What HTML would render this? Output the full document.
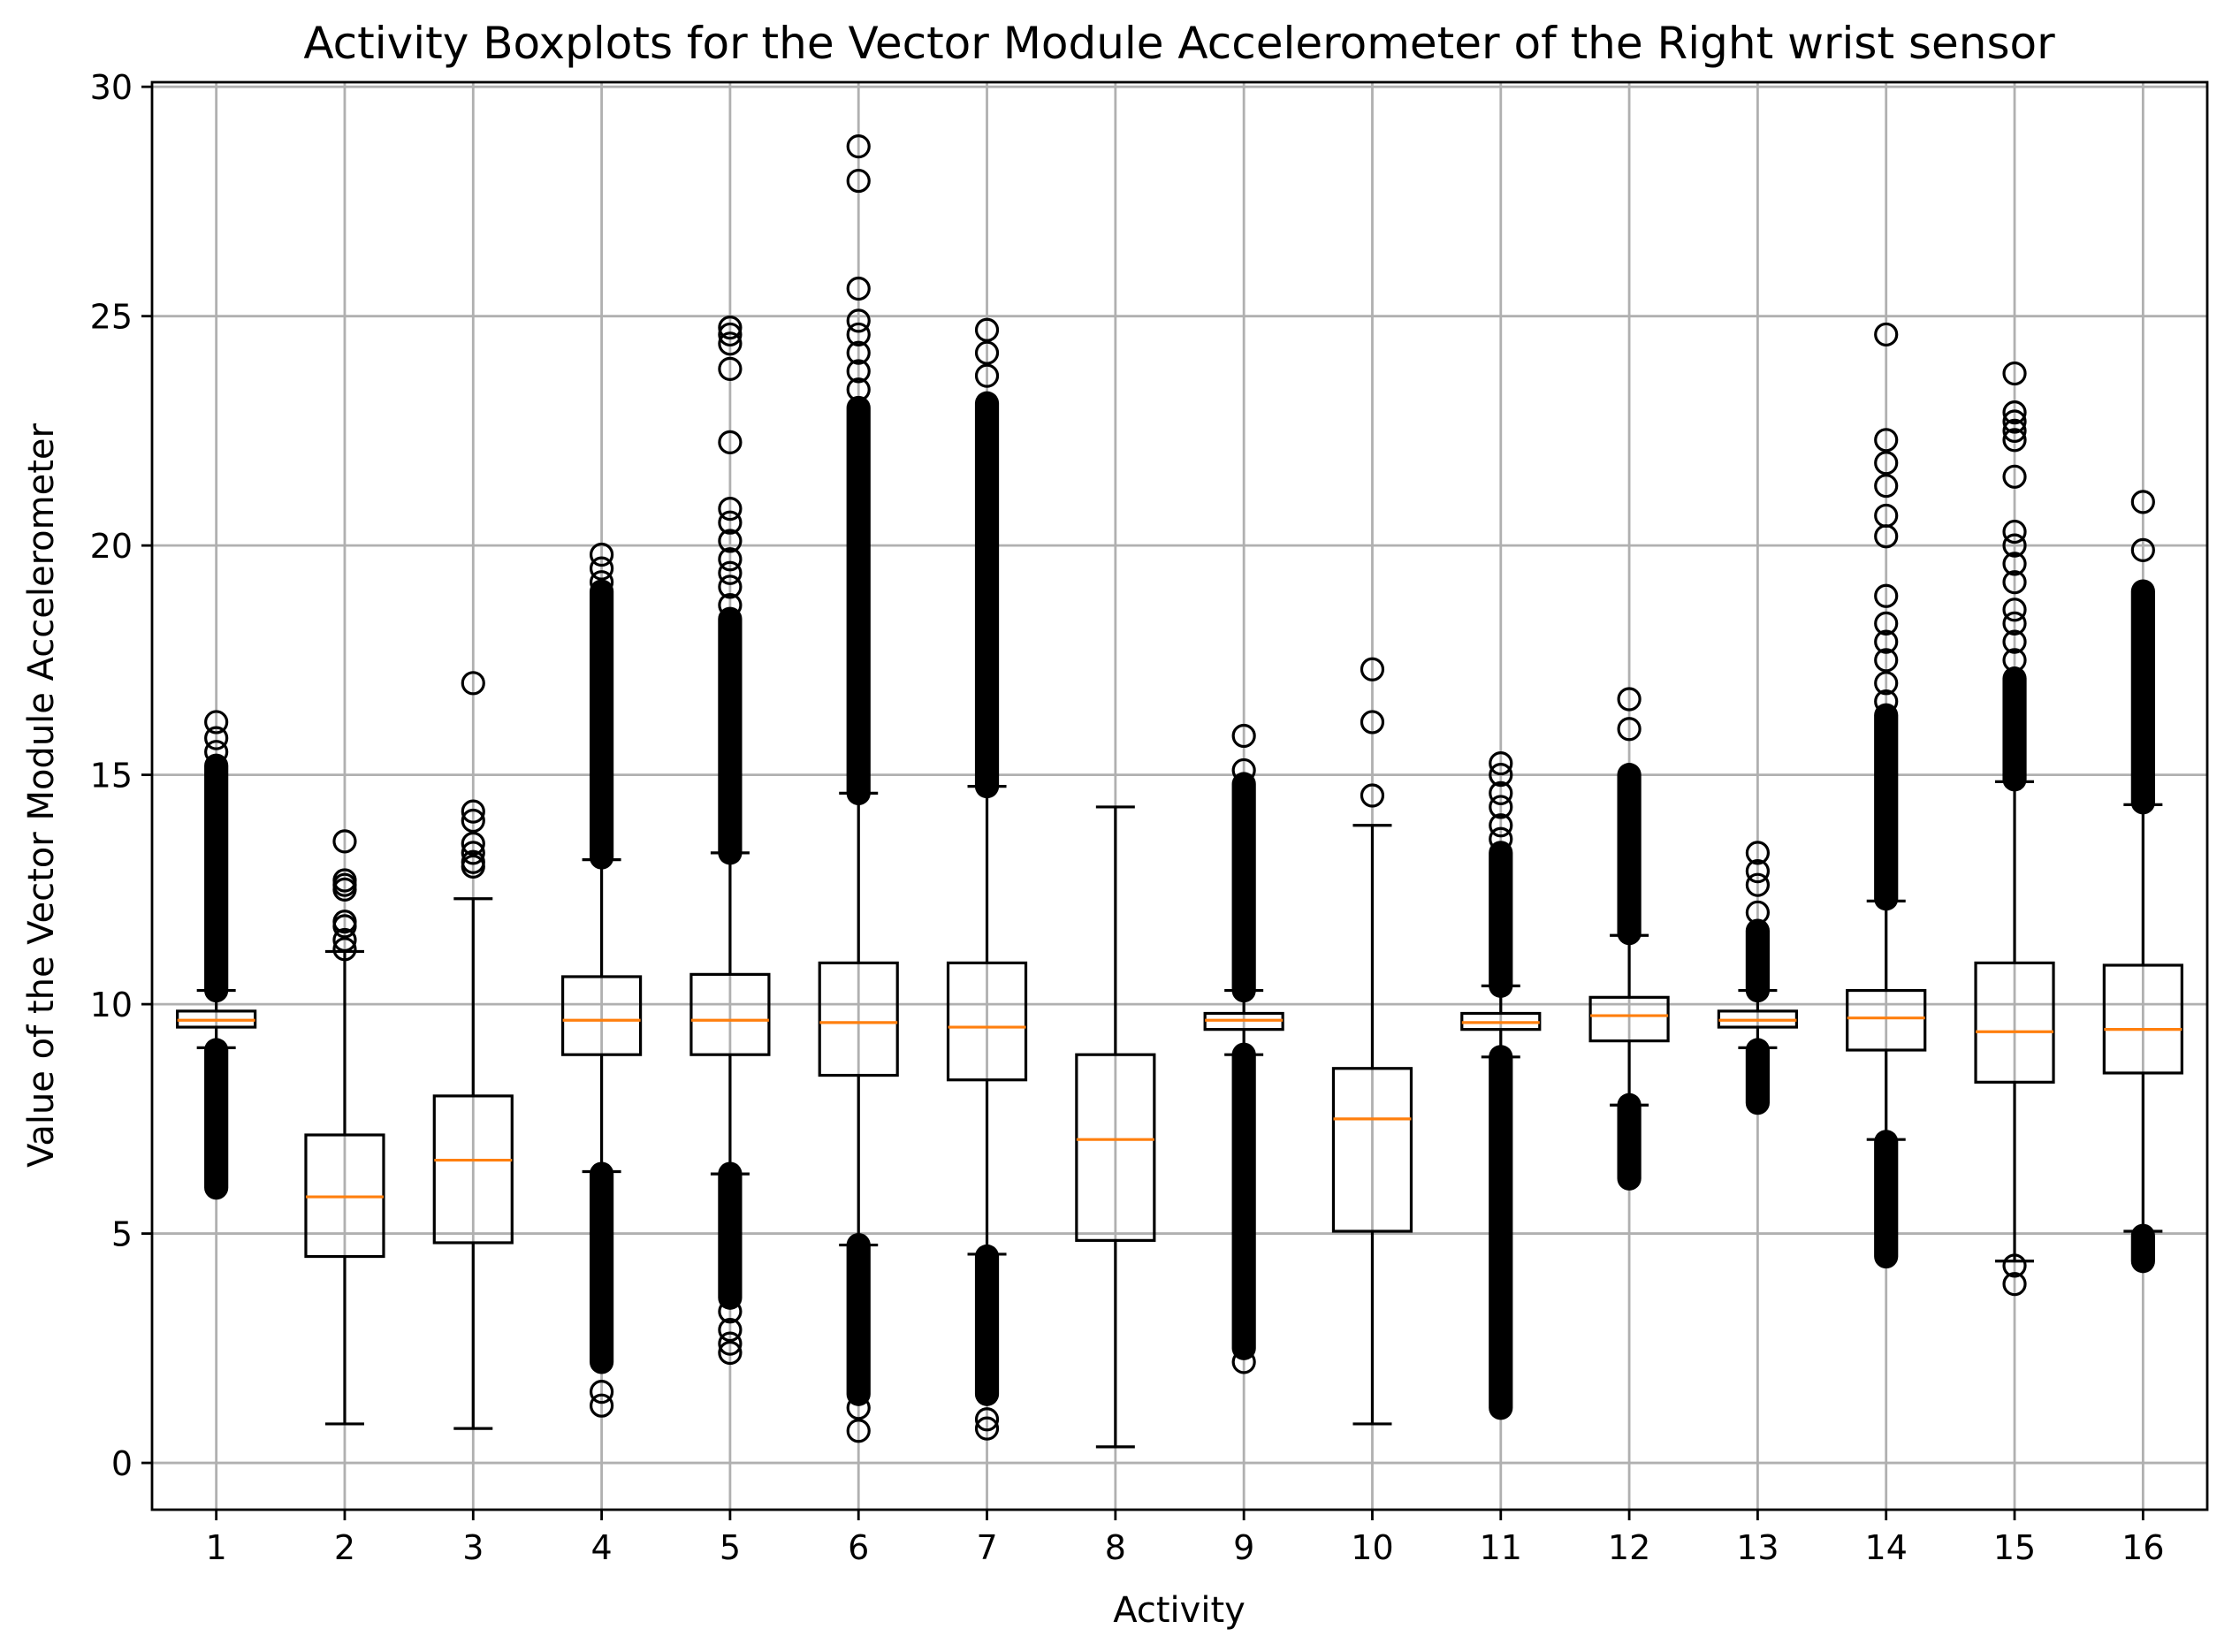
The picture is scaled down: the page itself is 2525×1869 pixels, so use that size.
<!DOCTYPE html>
<html><head><meta charset="utf-8"><style>
html,body{margin:0;padding:0;background:#fff;}
svg{display:block;font-family:"DejaVu Sans","Liberation Sans",sans-serif;}
</style></head><body>
<svg id="chart" width="2525" height="1869" viewBox="0 0 2525 1869" xmlns="http://www.w3.org/2000/svg">
<rect x="0" y="0" width="2525" height="1869" fill="#fff"/>
<g id="grid"></g>
<g id="boxes"></g>
<rect x="172" y="93" width="2325" height="1615" fill="none" stroke="#000" stroke-width="2.8"/>
<g id="ticks"></g>
<text x="1334" y="66" text-anchor="middle" font-size="50">Activity Boxplots for the Vector Module Accelerometer of the Right wrist sensor</text>
<text x="1334" y="1835" text-anchor="middle" font-size="40">Activity</text>
<text transform="translate(60,900) rotate(-90)" text-anchor="middle" font-size="40">Value of the Vector Module Accelerometer</text>
</svg>
<script>
const categories=["1","2","3","4","5","6","7","8","9","10","11","12","13","14","15","16"];
const q1=[9.5,4.5,4.8,8.9,8.9,8.45,8.35,4.85,9.45,5.05,9.45,9.2,9.5,9.0,8.3,8.5];
const medians=[9.65,5.8,6.6,9.65,9.65,9.6,9.5,7.05,9.65,7.5,9.6,9.75,9.65,9.7,9.4,9.45];
const q3=[9.85,7.15,8.0,10.6,10.65,10.9,10.9,8.9,9.8,8.6,9.8,10.15,9.85,10.3,10.9,10.85];
const whiskerLow=[9.05,0.85,0.75,6.35,6.3,4.75,4.55,0.35,8.9,0.85,8.85,7.8,9.05,7.05,4.4,5.05];
const whiskerHigh=[10.3,11.15,12.3,13.15,13.3,14.6,14.75,14.3,10.3,13.9,10.4,11.5,10.3,12.25,14.85,14.35];
// dense outlier runs [low, high] per activity (overlapping markers)
const denseHigh=[[10.3,15.2],null,null,[13.2,19.0],[13.3,18.4],[14.6,23.0],[14.75,23.1],null,[10.3,14.8],null,[10.4,13.3],[11.55,15.0],[10.3,11.6],[12.3,16.3],[14.9,17.1],[14.4,19.0]];
const denseLow=[[6.0,9.0],null,null,[2.2,6.3],[3.6,6.3],[1.5,4.75],[1.5,4.5],null,[2.5,8.9],null,[1.2,8.85],[6.2,7.8],[7.85,9.0],[4.5,7.0],null,[4.4,4.95]];
const sparseOutliers=[
 [15.5,15.8,16.15],
 [11.2,11.4,11.7,11.8,12.5,12.6,12.7,13.55],
 [13.0,13.1,13.3,13.5,14.0,14.2,17.0],
 [19.2,19.5,19.8,1.55,1.25],
 [18.7,19.1,19.4,19.7,20.1,20.5,20.8,22.25,23.85,24.4,24.6,24.75,2.4,2.6,2.9,3.3],
 [23.4,23.8,24.2,24.6,24.9,25.6,27.95,28.7,1.2,0.7],
 [23.7,24.2,24.7,0.95,0.75],
 [],
 [15.1,15.85,2.2],
 [14.55,16.15,17.3],
 [13.6,13.9,14.3,14.6,15.0,15.25],
 [16.0,16.65],
 [12.0,12.6,12.9,13.3],
 [16.6,17.0,17.5,17.9,18.3,18.9,20.2,20.65,21.3,21.8,22.3,24.6],
 [17.5,17.9,18.3,18.6,19.2,19.6,20.0,20.3,21.5,22.3,22.5,22.7,22.9,23.75,4.3,3.9],
 [19.9,20.95]
];
const yTicks=[0,5,10,15,20,25,30];

const NS="http://www.w3.org/2000/svg";
const L=172,R=2497,T=93,B=1708,xmin=0.5,xmax=16.5,ymin=-1.02,ymax=30.1;
const xs=i=>L+(i+1-xmin)/(xmax-xmin)*(R-L);
const ys=v=>B-(v-ymin)/(ymax-ymin)*(B-T);
function mk(tag,attrs,parent){const e=document.createElementNS(NS,tag);for(const k in attrs)e.setAttribute(k,attrs[k]);parent.appendChild(e);return e;}
const grid=document.getElementById('grid'),boxes=document.getElementById('boxes'),ticks=document.getElementById('ticks');
yTicks.forEach(v=>{
 const g=mk('line',{x1:L,x2:R,y1:ys(v),y2:ys(v),stroke:'#b0b0b0','stroke-width':2.8},grid);
 
 
 const t=mk('line',{x1:L-12,x2:L,y1:ys(v),y2:ys(v),stroke:'#000','stroke-width':2.8},ticks);
 
 
 const tx=mk('text',{x:L-22,y:ys(v)+14,'text-anchor':'end','font-size':38},ticks);
 tx.textContent=v;
 
 
});
categories.forEach((c,i)=>{
 const x=xs(i);
 const g=mk('line',{x1:x,x2:x,y1:T,y2:B,stroke:'#b0b0b0','stroke-width':2.8},grid);
 
 
 const t=mk('line',{x1:x,x2:x,y1:B,y2:B+12,stroke:'#000','stroke-width':2.8},ticks);
 
 
 const tx=mk('text',{x:x,y:B+56,'text-anchor':'middle','font-size':38},ticks);
 tx.textContent=c;
 
 

 const grp=mk('g',{},boxes);
 
 
 const bw=44,cw=22,sw=3.2;
 mk('line',{x1:x,x2:x,y1:ys(q1[i]),y2:ys(whiskerLow[i]),stroke:'#000','stroke-width':sw},grp);
 mk('line',{x1:x,x2:x,y1:ys(q3[i]),y2:ys(whiskerHigh[i]),stroke:'#000','stroke-width':sw},grp);
 mk('line',{x1:x-cw,x2:x+cw,y1:ys(whiskerLow[i]),y2:ys(whiskerLow[i]),stroke:'#000','stroke-width':sw},grp);
 mk('line',{x1:x-cw,x2:x+cw,y1:ys(whiskerHigh[i]),y2:ys(whiskerHigh[i]),stroke:'#000','stroke-width':sw},grp);
 mk('rect',{x:x-bw,y:ys(q3[i]),width:2*bw,height:ys(q1[i])-ys(q3[i]),fill:'none',stroke:'#000','stroke-width':sw},grp);
 mk('line',{x1:x-bw,x2:x+bw,y1:ys(medians[i]),y2:ys(medians[i]),stroke:'#ff7f0e','stroke-width':sw},grp);
 const r=12;
 [denseHigh[i],denseLow[i]].forEach(d=>{
  if(!d)return;
  const y1=ys(d[1]),y2=ys(d[0]);
  mk('rect',{x:x-r-1.6,y:y1-r-1.6,width:2*r+3.2,height:(y2-y1)+2*r+3.2,rx:r+1.6,fill:'#000'},grp);
 });
 sparseOutliers[i].forEach(v=>{
  mk('circle',{cx:x,cy:ys(v),r:r,fill:'none',stroke:'#000','stroke-width':3.2},grp);
 });
});
</script>
</body></html>
